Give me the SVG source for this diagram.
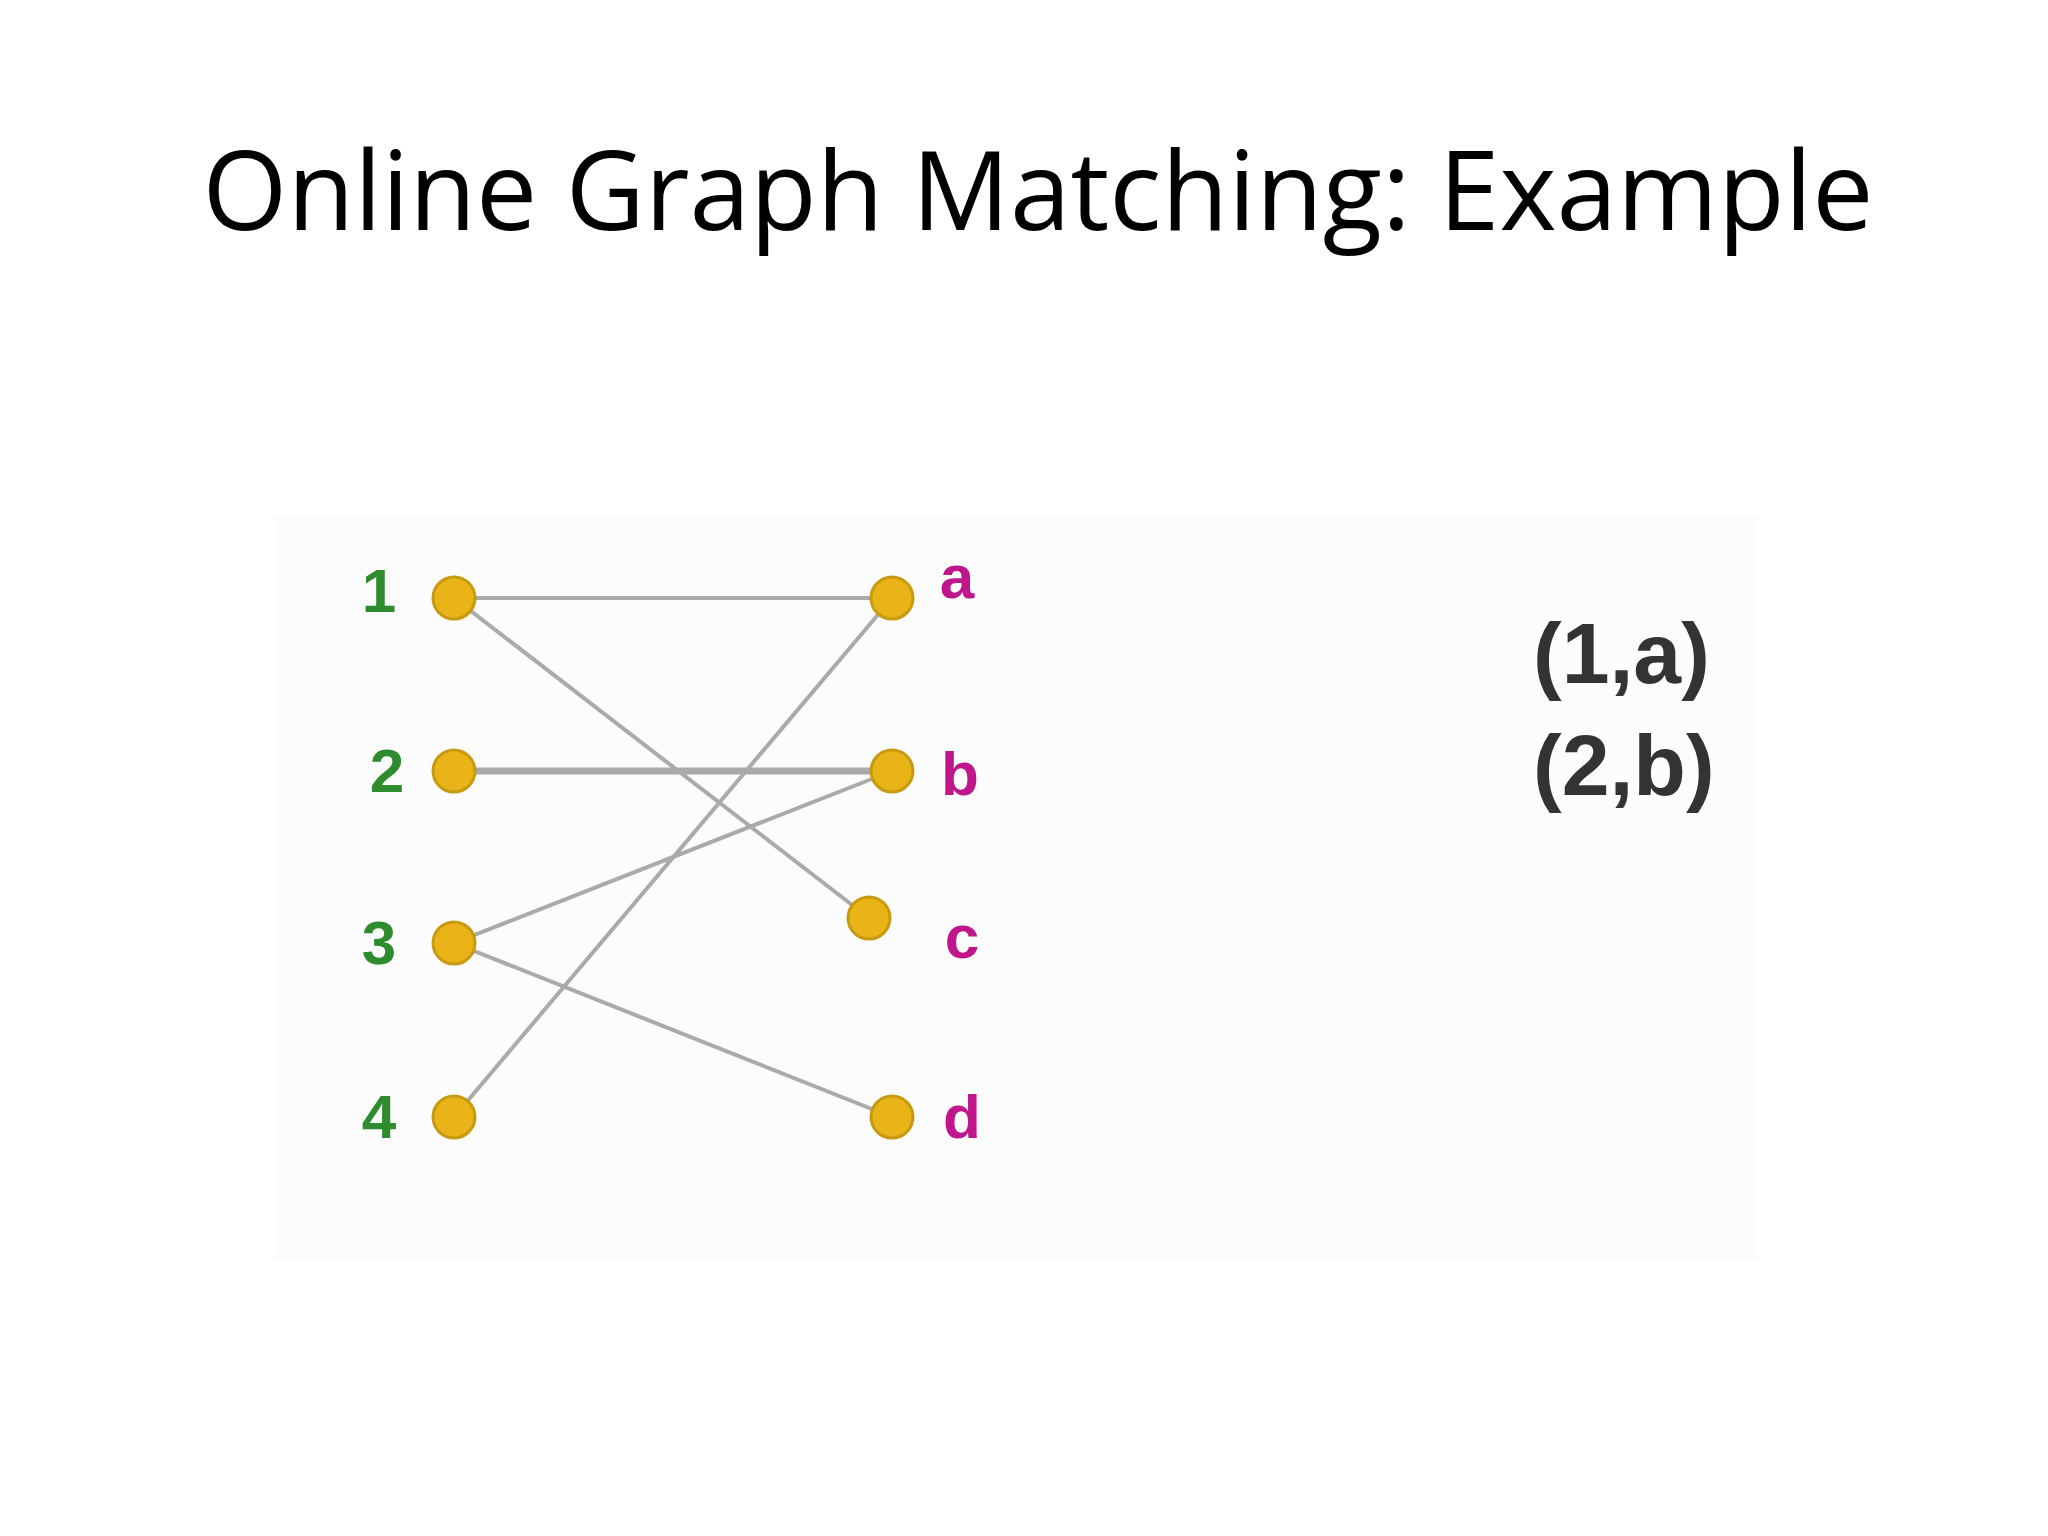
<svg xmlns="http://www.w3.org/2000/svg" width="2048" height="1536" viewBox="0 0 2048 1536">
<style>
.n{fill:#e8b418;stroke:#c89a10;stroke-width:3}
.e{stroke:#aaaaaa;stroke-width:4;fill:none}
.l{font-family:"Liberation Sans",Arial,sans-serif;font-weight:bold;font-size:62px}
.g{fill:#2e8b2e}.m{fill:#c0168c}
</style>
<rect width="2048" height="1536" fill="#ffffff"/>
<rect x="274" y="516" width="1484" height="744" fill="#fcfcfc"/>
<text x="1038" y="230" text-anchor="middle" font-family="'Open Sans','Noto Sans',sans-serif" font-size="109" fill="#000">Online Graph Matching: Example</text>
<g id="edges">
<line class="e" x1="454" y1="598" x2="892" y2="598"/>
<line class="e" x1="454" y1="598" x2="869" y2="918"/>
<line class="e" x1="454" y1="771" x2="892" y2="771" style="stroke-width:7"/>
<line class="e" x1="454" y1="943" x2="892" y2="771"/>
<line class="e" x1="454" y1="943" x2="892" y2="1117"/>
<line class="e" x1="454" y1="1117" x2="892" y2="598"/>
</g>
<g id="n1"><circle class="n" cx="454" cy="598" r="21"/><text class="l g" x="379" y="612" text-anchor="middle">1</text></g>
<g id="n2"><circle class="n" cx="454" cy="771" r="21"/><text class="l g" x="387" y="792" text-anchor="middle">2</text></g>
<g id="n3"><circle class="n" cx="454" cy="943" r="21"/><text class="l g" x="379" y="964" text-anchor="middle">3</text></g>
<g id="n4"><circle class="n" cx="454" cy="1117" r="21"/><text class="l g" x="379" y="1138" text-anchor="middle">4</text></g>
<g id="na"><circle class="n" cx="892" cy="598" r="21"/><text class="l m" x="957" y="598" text-anchor="middle">a</text></g>
<g id="nb"><circle class="n" cx="892" cy="771" r="21"/><text class="l m" x="960" y="795" text-anchor="middle">b</text></g>
<g id="nc"><circle class="n" cx="869" cy="918" r="21"/><text class="l m" x="962" y="958" text-anchor="middle">c</text></g>
<g id="nd"><circle class="n" cx="892" cy="1117" r="21"/><text class="l m" x="962" y="1138" text-anchor="middle">d</text></g>
<g id="matching" font-family="'Liberation Sans',Arial,sans-serif" font-size="86" font-weight="bold" fill="#333">
<text x="1533" y="683">(1,a)</text>
<text x="1533" y="795">(2,b)</text>
</g>
</svg>
